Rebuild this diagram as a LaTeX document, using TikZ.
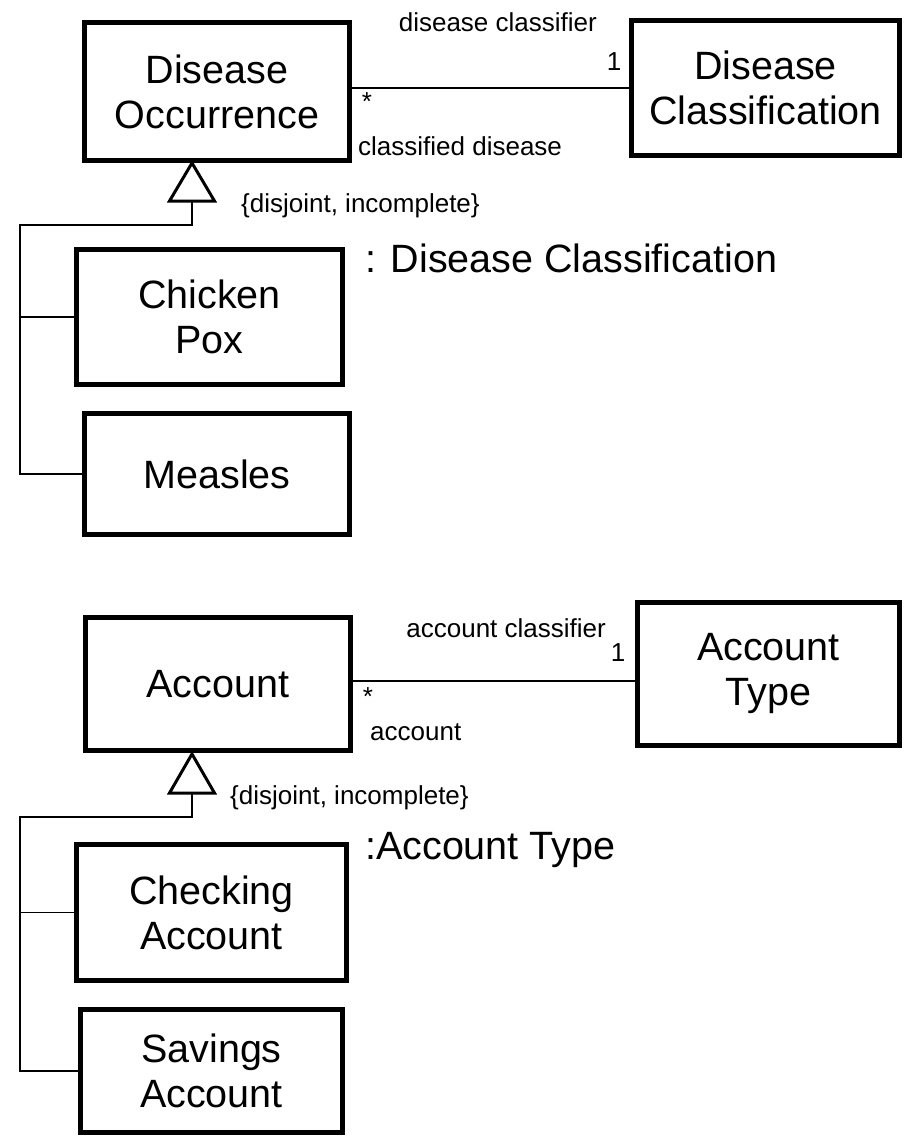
\documentclass[tikz,border=0pt]{standalone}
\usepackage{fontspec}
\setmainfont{Liberation Sans}
\newcommand\clsfont{\fontsize{39.5}{45}\selectfont}
\newcommand\notefont{\fontsize{26}{30}\selectfont}
\begin{document}
\begin{tikzpicture}[x=1pt,y=-1pt,
  cls/.style={draw, line width=5pt, inner sep=0pt, align=center, font=\clsfont},
  link/.style={line width=1.5pt},
  gentri/.style={line width=3pt, fill=white, line join=miter},
  note/.style={inner sep=0pt, font=\notefont},
  tag/.style={inner sep=0pt, font=\clsfont}]
\useasboundingbox (0,0) rectangle (903,1142);

% ---------- disease classes ----------
\node[cls, minimum width=265pt, minimum height=138pt] (occ) at (217,91.5) {Disease\\Occurrence};
\node[cls, minimum width=268pt, minimum height=135pt] (dcl) at (765.5,88) {Disease\\Classification};
\node[cls, minimum width=266pt, minimum height=135pt] (pox) at (209.5,317) {Chicken\\Pox};
\node[cls, minimum width=265pt, minimum height=121pt] (mea) at (217,474) {Measles};

% association
\draw[link] (dcl.west) -- (dcl.west -| occ.east);
\node[note, anchor=base east] (r1) at (597,31.5) {disease classifier};
\node[note, anchor=base] (m1) at (614,71) {1};
\node[note, anchor=base] (s1) at (367,111) {*};
\node[note, anchor=base west] (r2) at (358,155.5) {classified disease};

% generalization tree
\coordinate (apx1) at (192,163);
\coordinate (bas1) at (192,201);
\coordinate (jn1) at (20,225);
\draw[link] (bas1) |- (jn1) |- (mea.west);
\draw[link] (pox.west) -- (pox.west -| jn1);
\draw[gentri] (apx1) -- (214.5,201) -- (169.5,201) -- cycle;
\node[note, anchor=base west] (c1) at (241,212) {\{disjoint, incomplete\}};
\node[tag, anchor=base west] (p1) at (365,272) {: Disease Classification};

% ---------- account classes ----------
\node[cls, minimum width=265pt, minimum height=133pt] (acc) at (218,684) {Account};
\node[cls, minimum width=262pt, minimum height=143pt] (aty) at (768.5,674) {Account\\Type};
\node[cls, minimum width=270pt, minimum height=136pt] (chk) at (211.5,912.5) {Checking\\Account};
\node[cls, minimum width=262pt, minimum height=123pt] (sav) at (211.5,1071) {Savings\\Account};

% association
\draw[link] (aty.west |- 0,681) -- (acc.east |- 0,681);
\node[note, anchor=base east] (r3) at (606,637) {account classifier};
\node[note, anchor=base] (m2) at (618,661) {1};
\node[note, anchor=base] (s2) at (368,705) {*};
\node[note, anchor=base west] (r4) at (370,740) {account};

% generalization tree
\coordinate (apx2) at (192,754);
\coordinate (bas2) at (192,793);
\coordinate (jn2) at (20,817);
\draw[link] (bas2) |- (jn2) |- (sav.west);
\draw[link] (chk.west) -- (chk.west -| jn2);
\draw[gentri] (apx2) -- (214.5,793) -- (169.5,793) -- cycle;
\node[note, anchor=base west] (c2) at (230,804) {\{disjoint, incomplete\}};
\node[tag, anchor=base west] (p2) at (365,859) {:Account Type};
\end{tikzpicture}
\end{document}
